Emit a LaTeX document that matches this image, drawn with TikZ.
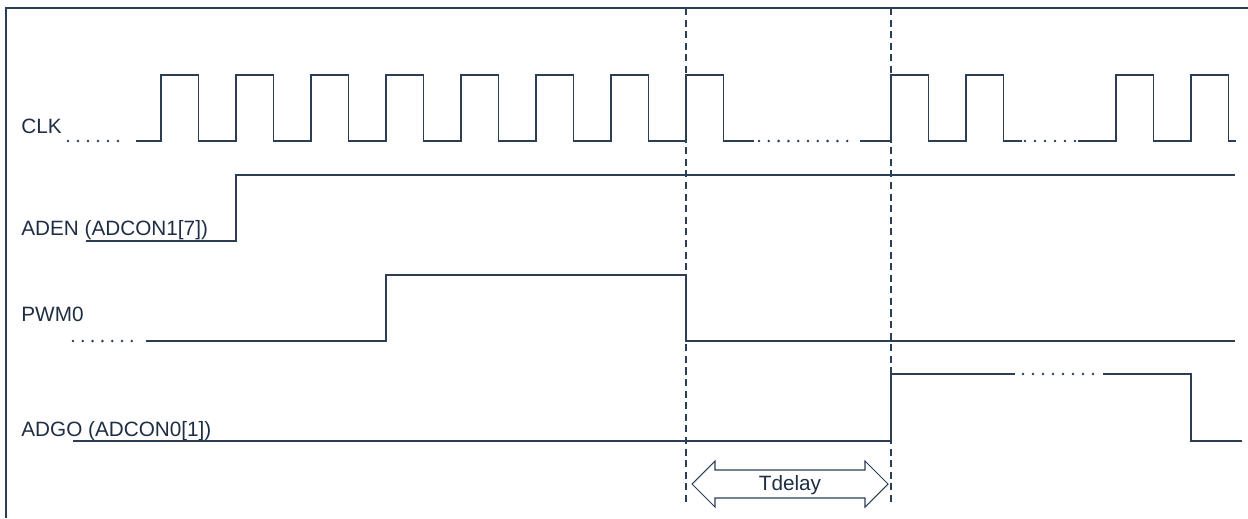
\documentclass[tikz,border=0pt]{standalone}
\usepackage{fontspec}
\setmainfont{Liberation Sans}
\usetikzlibrary{arrows.meta,positioning}
\definecolor{wavecol}{HTML}{2B3E55}
\definecolor{textcol}{HTML}{1F2E42}
\tikzset{
  wave/.style={wavecol,line width=0.6pt},
  guide/.style={wavecol,line width=0.6pt,dash pattern=on 4pt off 2.6pt},
  siglabel/.style={anchor=base west,inner sep=0pt,text=textcol,font=\fontsize{11.8}{14}\selectfont},
}
\newcommand{\dotrow}[4]{\foreach \i in {0,...,#3} \fill[wavecol] ({#1+\i*#4},#2) circle (0.8pt);}

\begin{document}
\begin{tikzpicture}[x=0.02cm,y=-0.02cm]
\useasboundingbox (0,0) rectangle (1248,518);
% frame
\draw[wavecol,line width=1pt] (6,518) -- (6,8) -- (1248,8);
% labels
\node[siglabel] (clk) at (21,133) {CLK};
\node[siglabel] (aden) at (21,235) {ADEN (ADCON1[7])};
\node[siglabel] (pwm) at (21,321) {PWM0};
\node[siglabel] (adgo) at (21,436.5) {ADGO (ADCON0[1])};
% CLK
\draw[wave] (136,141) \foreach \x in {161,236,...,686} {-- (\x,141) -- (\x,75) -- (\x+37.5,75) -- (\x+37.5,141)} -- (754,141);
\draw[wave] (860,141) \foreach \x in {891,966} {-- (\x,141) -- (\x,75) -- (\x+37.5,75) -- (\x+37.5,141)} -- (1022,141);
\draw[wave] (1078,141) \foreach \x in {1116,1191} {-- (\x,141) -- (\x,75) -- (\x+37.5,75) -- (\x+37.5,141)} -- (1236,141);
\dotrow{68}{141}{5}{10}
\dotrow{759}{141}{9}{9.8}
\dotrow{1025}{141}{5}{10}
% ADEN, PWM0, ADGO
\draw[wave] (86,241) -- (236,241) -- (236,175) -- (1235,175);
\draw[wave] (146,341) -- (386,341) -- (386,275) -- (686,275) -- (686,341) -- (1235,341);
\dotrow{73}{341}{6}{9.8}
\draw[wave] (73,441) -- (891,441) -- (891,374) -- (1015,374);
\draw[wave] (1103,374) -- (1191,374) -- (1191,441) -- (1242,441);
\dotrow{1023}{374}{7}{10}
% delay
\draw[guide] (686,8) -- (686,505);
\draw[guide] (891,8) -- (891,505);
\draw[wave] (692,484) -- (715,461) -- (715,470) -- (865,470) -- (865,461) -- (888,484)
  -- (865,507) -- (865,498) -- (715,498) -- (715,507) -- cycle;
\node[anchor=base,inner sep=0pt,text=textcol,font=\fontsize{11.8}{14}\selectfont] (tdelay) at (790,490) {Tdelay};
\end{tikzpicture}
\end{document}
